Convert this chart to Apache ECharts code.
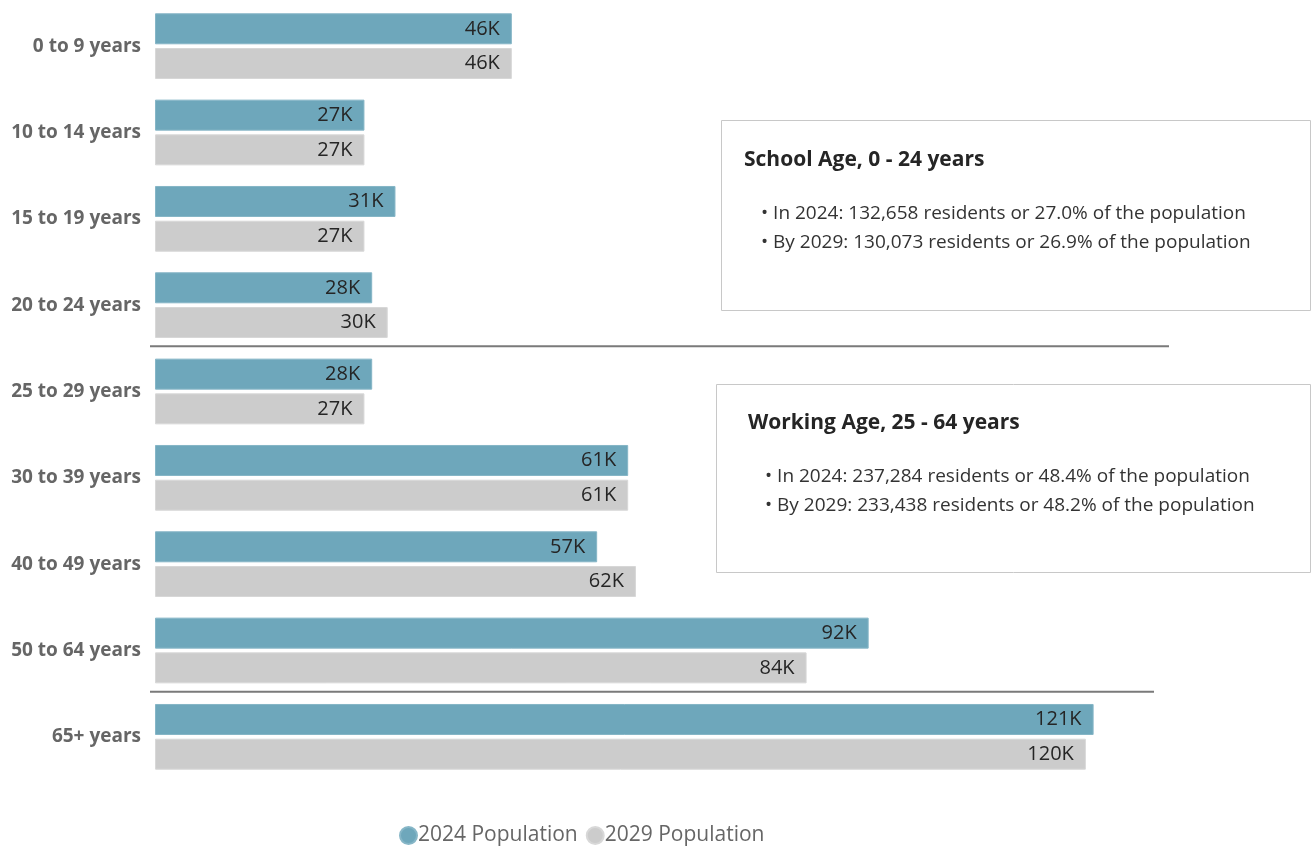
<!DOCTYPE html>
<html>
<head>
<meta charset="utf-8">
<script src="https://cdn.jsdelivr.net/npm/echarts@6/dist/echarts.min.js"></script>
<style>
  html, body { margin: 0; padding: 0; background: #fff; }
  #chart { width: 1312px; height: 847px; }
</style>
</head>
<body>
<div id="chart"></div>
<script>
// Age groups, top to bottom
const ageGroups = ['0 to 9 years', '10 to 14 years', '15 to 19 years', '20 to 24 years',
  '25 to 29 years', '30 to 39 years', '40 to 49 years', '50 to 64 years', '65+ years'];
// Population in thousands
const pop2024 = [46, 27, 31, 28, 28, 61, 57, 92, 121];
const pop2029 = [46, 27, 27, 30, 27, 61, 62, 84, 120];
const seriesNames = ['2024 Population', '2029 Population'];

const schoolTitle = 'School Age, 0 - 24 years';
const schoolLines = ['• In 2024: 132,658 residents or 27.0% of the population',
  '• By 2029: 130,073 residents or 26.9% of the population'];
const workTitle = 'Working Age, 25 - 64 years';
const workLines = ['• In 2024: 237,284 residents or 48.4% of the population',
  '• By 2029: 233,438 residents or 48.2% of the population'];

const FONT = '"Open Sans", "Noto Sans", sans-serif';
const chart = echarts.init(document.getElementById('chart'));

const labelOpt = {
  show: true,
  position: 'insideRight',
  distance: 12,
  color: '#252525',
  fontSize: 20,
  fontFamily: FONT,
  formatter: p => p.value + 'K'
};

chart.setOption({
  animation: false,
  grid: { left: 155, right: 71, top: 3, bottom: 67, containLabel: false },
  xAxis: { type: 'value', min: 0, max: 140, show: false },
  yAxis: {
    type: 'category',
    data: ageGroups,
    inverse: true,
    axisLine: { show: false },
    axisTick: { show: false },
    axisLabel: { color: '#666', fontSize: 19, fontWeight: 'bold', fontFamily: FONT, margin: 14,
      padding: [3, 0, 0, 0] }
  },
  legend: {
    top: 820,
    left: 394,
    icon: 'circle',
    itemWidth: 17, itemHeight: 17, itemGap: 8,
    textStyle: { color: '#666', fontSize: 21, fontFamily: FONT, padding: [0, 0, 0, -4] },
    data: seriesNames
  },
  series: [
    {
      name: seriesNames[0], type: 'bar', data: pop2024,
      barWidth: 31, barGap: '12%',
      itemStyle: { color: '#6ea7bb', borderColor: '#86b6c7', borderWidth: 1 },
      label: labelOpt
    },
    {
      name: seriesNames[1], type: 'bar', data: pop2029,
      barWidth: 31,
      itemStyle: { color: '#cccccc', borderColor: '#d8d8d8', borderWidth: 1 },
      label: labelOpt
    }
  ]
});

// y position halfway between two neighbouring age groups
function boundaryY(i) {
  const a = chart.convertToPixel({ yAxisIndex: 0 }, i);
  const b = chart.convertToPixel({ yAxisIndex: 0 }, i + 1);
  return (a + b) / 2 - 2;
}

function infoBox(x, y, w, h, title, lines, tx, ty) {
  return {
    type: 'group',
    children: [
      { type: 'rect', shape: { x: x, y: y, width: w, height: h },
        style: { fill: '#fff', stroke: '#c8c8c8', lineWidth: 1 } },
      { type: 'text', x: tx, y: ty,
        style: { text: title, fill: '#252525', font: 'bold 21px ' + FONT, textVerticalAlign: 'middle' } },
      { type: 'text', x: tx + 17, y: ty + 54,
        style: { text: lines[0], fill: '#333', font: '19px ' + FONT, textVerticalAlign: 'middle' } },
      { type: 'text', x: tx + 17, y: ty + 83,
        style: { text: lines[1], fill: '#333', font: '19px ' + FONT, textVerticalAlign: 'middle' } }
    ]
  };
}

const y1 = boundaryY(3);
const y2 = boundaryY(7);
chart.setOption({
  graphic: [
    { type: 'line', shape: { x1: 150, y1: y1, x2: 1169, y2: y1 },
      style: { stroke: '#7a7a7a', lineWidth: 2 } },
    { type: 'line', shape: { x1: 150, y1: y2, x2: 1154, y2: y2 },
      style: { stroke: '#7a7a7a', lineWidth: 2 } },
    infoBox(721.5, 120.5, 589, 190, schoolTitle, schoolLines, 744, 160),
    infoBox(716.5, 384.5, 594, 188, workTitle, workLines, 748, 423)
  ]
});
</script>
</body>
</html>
